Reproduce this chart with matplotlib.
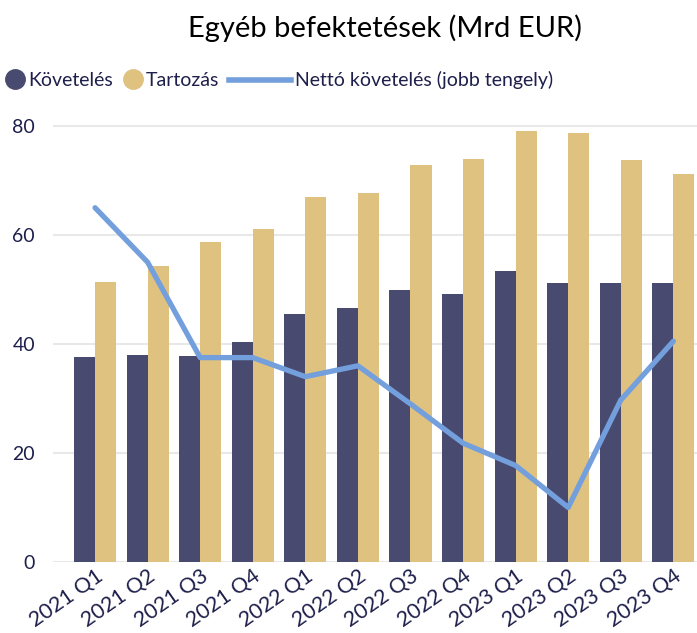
import matplotlib.pyplot as plt
import numpy as np
from matplotlib.lines import Line2D

plt.rcParams['font.family'] = ['Lato', 'DejaVu Sans']

quarters = ['2021 Q1', '2021 Q2', '2021 Q3', '2021 Q4', '2022 Q1', '2022 Q2',
            '2022 Q3', '2022 Q4', '2023 Q1', '2023 Q2', '2023 Q3', '2023 Q4']
koveteles = [37.7, 38.0, 37.8, 40.3, 45.5, 46.6, 49.9, 49.2, 53.4, 51.2, 51.2, 51.2]
tartozas = [51.4, 54.3, 58.7, 61.1, 67.0, 67.7, 72.8, 73.9, 79.1, 78.7, 73.8, 71.2]
netto = [65.0, 55.0, 37.5, 37.5, 34.0, 36.0, 29.0, 21.8, 17.7, 10.0, 29.7, 40.5]

navy = '#484a70'
gold = '#dfc280'
blue = '#739fdd'
txt = '#1e1f4b'

fig = plt.figure(figsize=(6.97, 6.33), dpi=100)
ax = fig.add_axes([0.076, 0.1122, 0.924, 0.706])

x = np.arange(len(quarters))
w = 0.4
ax.bar(x - w / 2, koveteles, w, color=navy, zorder=2)
ax.bar(x + w / 2, tartozas, w, color=gold, zorder=2)

# right axis, hidden, same range as left
ax2 = ax.twinx()
ax2.plot(x, netto, color=blue, lw=3.8, solid_capstyle='round', zorder=3)
ax2.set_ylim(0, 82)
ax2.axis('off')

ax.set_ylim(0, 82)
ax.set_xlim(-0.8, len(quarters) - 0.55)
ax.set_yticks([0, 20, 40, 60, 80])
ax.yaxis.grid(True, color='#e8e8e8', lw=1.5, zorder=0)
ax.set_axisbelow(True)
for s in ax.spines.values():
    s.set_visible(False)
ax.tick_params(length=0, labelsize=14, labelcolor=txt)
ax.tick_params(axis='y', pad=13)
ax.tick_params(axis='x', pad=3)
ax.set_xticks(x)
ax.set_xticklabels(quarters, rotation=35, ha='right', rotation_mode='anchor', fontsize=15.5)

fig.text(0.552, 0.956, 'Egyéb befektetések (Mrd EUR)', ha='center', va='center',
         fontsize=21, color='black')

# legend in two parts so the line handle can be longer than the dots
dots = [Line2D([], [], marker='o', ls='', color=navy, markersize=14),
        Line2D([], [], marker='o', ls='', color=gold, markersize=14)]
leg1 = fig.legend(dots, ['Követelés', 'Tartozás'], loc='center left',
                  bbox_to_anchor=(0.008, 0.873), ncol=2, frameon=False,
                  fontsize=14, handlelength=1.0, handletextpad=0.15,
                  columnspacing=0.55, borderaxespad=0, borderpad=0)
fig.canvas.draw()
bb = leg1.get_window_extent().transformed(fig.transFigure.inverted())
leg2 = fig.legend([Line2D([], [], color=blue, lw=4)],
                  ['Nettó követelés (jobb tengely)'], loc='center left',
                  bbox_to_anchor=(bb.x1 + 0.014, 0.873), frameon=False,
                  fontsize=14, handlelength=3.2, handletextpad=0.2,
                  borderaxespad=0, borderpad=0)
for leg in (leg1, leg2):
    for t in leg.get_texts():
        t.set_color(txt)

fig.savefig('out.png', dpi=100)
